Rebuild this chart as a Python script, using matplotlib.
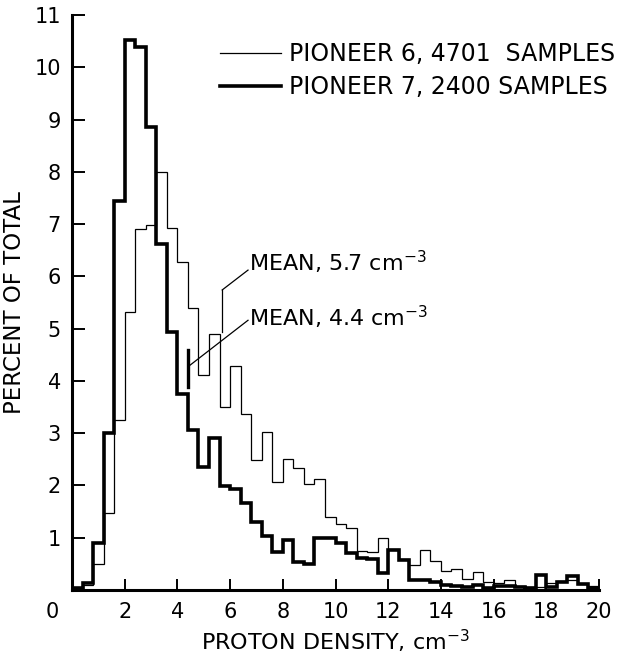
import matplotlib
matplotlib.use('Agg')
import matplotlib.pyplot as plt
import matplotlib.transforms as mtransforms
import numpy as np

# bin edges, 0.4 cm^-3 wide, 0 to 20
bin_edges = np.round(np.arange(51) * 0.4, 1)

# Pioneer 6 (thin line), percent of total per bin
pioneer6 = [0.02, 0.10, 0.49, 1.48, 3.25, 5.32, 6.90, 6.99, 8.00, 6.92,
            6.28, 5.39, 4.12, 4.89, 3.50, 4.28, 3.37, 2.49, 3.03, 2.07,
            2.50, 2.33, 2.02, 2.12, 1.39, 1.26, 1.18, 0.75, 0.73, 0.99,
            0.78, 0.60, 0.48, 0.77, 0.55, 0.37, 0.40, 0.22, 0.34, 0.15,
            0.13, 0.19, 0.08, 0.06, 0.05, 0.13, 0.17, 0.20, 0.12, 0.08]

# Pioneer 7 (thick line)
pioneer7 = [0.03, 0.13, 0.90, 3.00, 7.44, 10.52, 10.39, 8.86, 6.62, 4.94,
            3.75, 3.06, 2.36, 2.90, 1.99, 1.94, 1.67, 1.31, 1.03, 0.73,
            0.96, 0.54, 0.49, 0.99, 1.00, 0.89, 0.70, 0.62, 0.60, 0.32,
            0.76, 0.57, 0.20, 0.20, 0.16, 0.10, 0.08, 0.05, 0.10, 0.03,
            0.07, 0.07, 0.05, 0.03, 0.28, 0.05, 0.15, 0.27, 0.12, 0.03]

p6_mean = 5.7
p7_mean = 4.4
x_ticks = [0, 2, 4, 6, 8, 10, 12, 14, 16, 18, 20]
y_ticks = [1, 2, 3, 4, 5, 6, 7, 8, 9, 10, 11]

FS = 15
FS_BIG = 16
fig = plt.figure(figsize=(6.29, 6.57), dpi=100)
ax = fig.add_axes([72/629, 67/657, 527/629, 575/657])

ax.stairs(pioneer6, bin_edges, baseline=0, color='black', lw=0.9,
          label='PIONEER 6, 4701  SAMPLES')
ax.stairs(pioneer7, bin_edges, baseline=0, color='black', lw=2.6,
          label='PIONEER 7, 2400 SAMPLES')

# mean markers with leader lines
ax.plot([p6_mean, p6_mean], [4.94, 5.74], color='black', lw=0.9)
ax.plot([p6_mean, 6.68], [5.74, 6.12], color='black', lw=0.9)
ax.text(6.72, 6.27, 'MEAN, 5.7 cm$^{-3}$', fontsize=FS_BIG, va='center', ha='left')
ax.plot([p7_mean, p7_mean], [3.89, 4.59], color='black', lw=2.4)
ax.plot([p7_mean, 6.68], [4.27, 5.16], color='black', lw=0.9)
ax.text(6.72, 5.22, 'MEAN, 4.4 cm$^{-3}$', fontsize=FS_BIG, va='center', ha='left')

ax.set_xlim(0, 20)
ax.set_ylim(0, 11)
for s in ['top', 'right']:
    ax.spines[s].set_visible(False)
for s in ['left', 'bottom']:
    ax.spines[s].set_linewidth(2.2)

ax.set_xticks(x_ticks)
ax.set_xticklabels([str(t) for t in x_ticks])
ax.set_yticks(y_ticks)
ax.set_yticklabels([str(t) for t in y_ticks])
ax.tick_params(axis='x', direction='in', length=8, width=1.4, labelsize=FS, pad=9)
ax.tick_params(axis='y', direction='in', length=9, width=1.4, labelsize=FS, pad=8)
ax.xaxis.get_major_ticks()[0].tick1line.set_visible(False)
# shift the "0" label left of the axis corner
lab0 = ax.get_xticklabels()[0]
lab0.set_transform(lab0.get_transform() + mtransforms.ScaledTranslation(-0.2, 0, fig.dpi_scale_trans))

ax.set_xlabel('PROTON DENSITY, cm$^{-3}$', fontsize=FS_BIG, labelpad=4)
ax.set_ylabel('PERCENT OF TOTAL', fontsize=FS_BIG + 0.5, labelpad=6)

ax.legend(loc='upper left', bbox_to_anchor=(0.281, 0.953), frameon=False, fontsize=17,
          handlelength=2.6, handletextpad=0.3, labelspacing=0.4,
          borderaxespad=0, borderpad=0)

fig.savefig('out.png', dpi=100)
